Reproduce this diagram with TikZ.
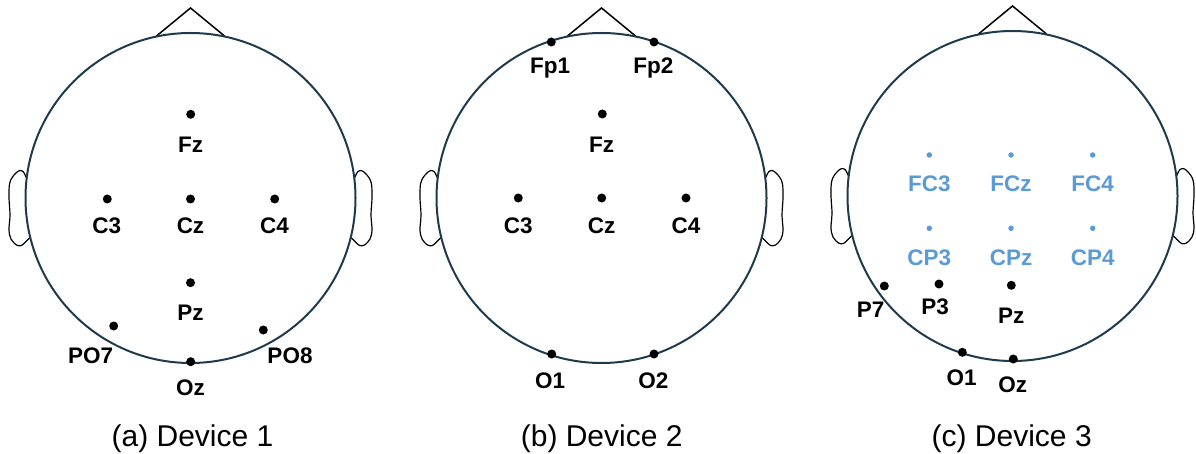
\documentclass[tikz,border=0pt]{standalone}
\usepackage{fontspec}
\setmainfont{Liberation Sans}
\definecolor{headc}{HTML}{1E3A4C}
\definecolor{bluec}{HTML}{5B9BD5}
\tikzset{
  headline/.style={draw=headc, line width=2pt},
  noseline/.style={draw=black, line width=1.5pt, line join=miter},
  earline/.style={draw=black, line width=1.2pt},
  edot/.style={circle, fill=black, inner sep=0pt, minimum size=9pt},
  bdot/.style={circle, fill=bluec, inner sep=0pt, minimum size=5.5pt},
  elab/.style={font=\fontsize{22.5}{22.5}\selectfont\bfseries, inner sep=0pt, anchor=base, text=black},
  blab/.style={elab, text=bluec},
  captxt/.style={font=\fontsize{30}{30}\selectfont, inner sep=0pt, anchor=base},
}
\newcommand\myhead[2]{%
  \begin{scope}[shift={(#1,#2)}]
    \draw[noseline] (-34,-162) -- (0,-190) -- (34,-162);
    \draw[earline] plot[smooth, tension=0.55] coordinates {(-164,-20) (-167.5,-26.5) (-172,-27) (-178,-21) (-181,-14) (-181.5,0) (-180.5,17) (-181.5,32) (-179.5,41) (-174,47) (-169,47.5) (-164,43) (-160,39)};
    \begin{scope}[xscale=-1]
      \draw[earline] plot[smooth, tension=0.55] coordinates {(-164,-20) (-167.5,-26.5) (-172,-27) (-178,-21) (-181,-14) (-181.5,0) (-180.5,17) (-181.5,32) (-179.5,41) (-174,47) (-169,47.5) (-164,43) (-160,39)};
    \end{scope}
    \draw[headline] (0,0) circle[radius=165];
  \end{scope}}
\begin{document}
\begin{tikzpicture}[x=1pt, y=-1pt]
\useasboundingbox (0,0) rectangle (1196,454);
% heads
\myhead{190.5}{198}
\myhead{601.5}{198}
\myhead{1012.5}{196}

% (a) Device 1
\node[edot] (aFz) at (190.7,114.3) {};
\node[elab] (aFzL) at (190.5,153) {Fz};
\node[edot] (aC3) at (107.3,199) {};
\node[elab] (aC3L) at (106.8,234) {C3};
\node[edot] (aCz) at (190.5,199) {};
\node[elab] (aCzL) at (190.5,234) {Cz};
\node[edot] (aC4) at (274.7,199) {};
\node[elab] (aC4L) at (274.5,234) {C4};
\node[edot] (aPz) at (190.5,282.7) {};
\node[elab] (aPzL) at (190.5,320) {Pz};
\node[edot] (aPO7) at (113.7,326) {};
\node[elab] (aPO7L) at (90.7,363) {PO7};
\node[edot] (aPO8) at (263.3,330) {};
\node[elab] (aPO8L) at (290,363) {PO8};
\node[edot] (aOz) at (190.7,361.7) {};
\node[elab] (aOzL) at (190.5,395) {Oz};
\node[captxt] (capA) at (192.5,446) {(a) Device 1};

% (b) Device 2
\node[edot] (bFp1) at (551.3,42) {};
\node[elab] (bFp1L) at (550,73.5) {Fp1};
\node[edot] (bFp2) at (654,42) {};
\node[elab] (bFp2L) at (653.3,73.5) {Fp2};
\node[edot] (bFz) at (602.3,114) {};
\node[elab] (bFzL) at (601.7,152.5) {Fz};
\node[edot] (bC3) at (518.3,198) {};
\node[elab] (bC3L) at (518.3,234) {C3};
\node[edot] (bCz) at (601.7,198) {};
\node[elab] (bCzL) at (601.7,234) {Cz};
\node[edot] (bC4) at (686,198) {};
\node[elab] (bC4L) at (686,234) {C4};
\node[edot] (bO1) at (551.7,354) {};
\node[elab] (bO1L) at (550,388) {O1};
\node[edot] (bO2) at (654,354) {};
\node[elab] (bO2L) at (653.3,388) {O2};
\node[captxt] (capB) at (601.7,446) {(b) Device 2};

% (c) Device 3
\node[bdot] (cFC3) at (929.3,155) {};
\node[blab] (cFC3L) at (929.3,192) {FC3};
\node[bdot] (cFCz) at (1011,155) {};
\node[blab] (cFCzL) at (1011,192) {FCz};
\node[bdot] (cFC4) at (1092.7,155) {};
\node[blab] (cFC4L) at (1092.7,192) {FC4};
\node[bdot] (cCP3) at (929.3,228.3) {};
\node[blab] (cCP3L) at (929.3,265.3) {CP3};
\node[bdot] (cCPz) at (1011,228.3) {};
\node[blab] (cCPzL) at (1011,265.3) {CPz};
\node[bdot] (cCP4) at (1092.7,228.3) {};
\node[blab] (cCP4L) at (1092.7,265.3) {CP4};
\node[edot] (cP7) at (884.3,286) {};
\node[elab] (cP7L) at (870.7,317.3) {P7};
\node[edot] (cP3) at (939,284) {};
\node[elab] (cP3L) at (935,314.7) {P3};
\node[edot] (cPz) at (1011.3,285.3) {};
\node[elab] (cPzL) at (1011.3,323) {Pz};
\node[edot] (cO1) at (962.3,352.3) {};
\node[elab] (cO1L) at (961.7,385.7) {O1};
\node[edot] (cOz) at (1013.3,359) {};
\node[elab] (cOzL) at (1012.7,392) {Oz};
\node[captxt] (capC) at (1011.7,446) {(c) Device 3};
\end{tikzpicture}
\end{document}
